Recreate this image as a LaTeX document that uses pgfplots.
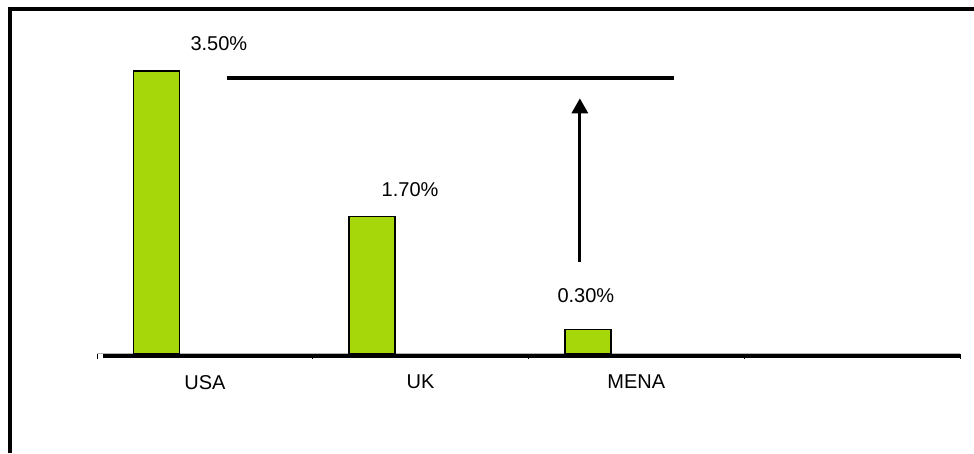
\documentclass[border=0pt]{standalone}
\usepackage{pgfplots}
\pgfplotsset{compat=1.18}
\usepackage{fontspec}
\setmainfont{Liberation Sans}
\usetikzlibrary{arrows.meta}
\definecolor{barg}{RGB}{166,215,10}
\begin{document}
\begin{tikzpicture}[font=\fontsize{20}{24}\selectfont]
\begin{axis}[
 at={(97pt,99.5pt)}, anchor=south west,
 scale only axis, width=863pt, height=322.8pt,
 xmin=-0.5, xmax=3.5, ymin=0, ymax=4,
 hide y axis,
 axis x line*=bottom,
 x axis line style={gray!60, line width=0.8pt},
 xtick={0,1,2}, xticklabels={USA,UK,MENA},
 major tick length=0pt,
 minor xtick={-0.5,0.5,1.5,2.5,3.5},
 minor tick length=5pt,
 tick align=inside,
 minor tick style={black, line width=0.8pt},
 xticklabel style={inner sep=0pt, yshift=-21.5pt, font=\fontsize{20}{24}\selectfont},
 ybar, bar width=46pt, bar shift=-48.5pt,
 clip=false,
]
\addplot[fill=barg, draw=black, line width=1.5pt] coordinates {(0,3.5) (1,1.7) (2,0.3)};
\draw[line width=4pt] ([yshift=-2pt]axis cs:-0.472,0) -- ([yshift=-2pt]axis cs:3.5,0);
\draw[line width=3.5pt] (axis cs:0.101,3.414) -- (axis cs:2.174,3.414);
\draw[line width=3pt, -{Triangle[width=16pt,length=15pt]}] (axis cs:1.738,1.138) -- (axis cs:1.738,3.162);
\node[inner sep=0pt] at (axis cs:0.065,3.835) {3.50\%};
\node[inner sep=0pt] at (axis cs:0.951,2.026) {1.70\%};
\node[inner sep=0pt] at (axis cs:1.766,0.713) {0.30\%};
\end{axis}
\draw[line width=4pt] (8pt,443.5pt) -- (974pt,443.5pt);
\draw[line width=4pt] (9.5pt,445.5pt) -- (9.5pt,0pt);
\pgfresetboundingbox
\path[use as bounding box] (0,0) rectangle (974pt,453pt);
\end{tikzpicture}
\end{document}
